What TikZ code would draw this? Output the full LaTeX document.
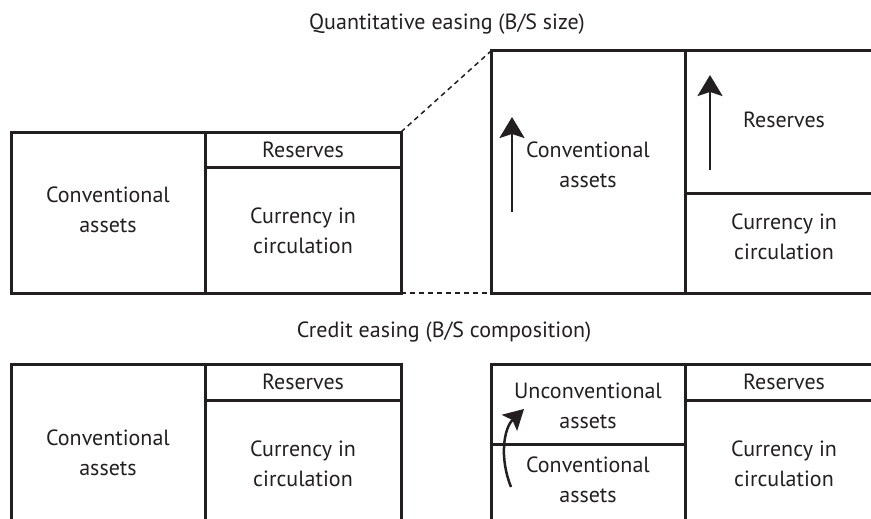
\documentclass[tikz,border=0pt]{standalone}
\usepackage{fontspec}
\setmainfont{PT Sans}
\usetikzlibrary{arrows.meta}
\definecolor{ink}{HTML}{231F20}
\begin{document}
\begin{tikzpicture}[x=1pt,y=-1pt,
  box/.style={line width=3pt,draw=ink},
  dashline/.style={line width=1.5pt,draw=ink,dash pattern=on 5pt off 4pt},
  lbl/.style={align=center,font=\fontsize{22}{30}\selectfont,inner sep=0pt,text=ink},
  uparrow/.style={line width=2.5pt,draw=ink,-{Stealth[length=21pt,width=25pt,inset=4pt]}},
  curvarrow/.style={line width=2.5pt,draw=ink,-{Stealth[length=20pt,width=22pt,inset=4pt]}}]
\useasboundingbox (0,0) rectangle (871,519);
\clip (0,0) rectangle (871,519);
% top left balance sheet
\draw[box] (11,132) rectangle (401,293);
\draw[box] (205,132) -- (205,293);
\draw[box] (205,167) -- (401,167);
% top right balance sheet
\draw[box] (491,51) rectangle (885,293);
\draw[box] (685,51) -- (685,293);
\draw[box] (685,193) -- (885,193);
% dashed links
\coordinate (tlTR) at (401,132);
\coordinate (tlBR) at (401,293);
\coordinate (trTL) at (491,51);
\coordinate (trBL) at (491,293);
\draw[dashline] (tlTR) -- (trTL);
\draw[dashline] (tlBR) -- (trBL);
% arrows
\coordinate (a1s) at (512,212);
\coordinate (a1e) at (512,117);
\draw[uparrow] (a1s) -- (a1e);
\coordinate (a2s) at (710,170);
\coordinate (a2e) at (710,75);
\draw[uparrow] (a2s) -- (a2e);
% texts top
\node[lbl] (t1) at (447,24) {Quantitative easing (B/S size)};
\node[lbl] (tl1) at (108,210) {Conventional\\assets};
\node[lbl] (tl2) at (303,150) {Reserves};
\node[lbl] (tl3) at (303,231) {Currency in\\circulation};
\node[lbl] (tr1) at (588,165) {Conventional\\assets};
\node[lbl] (tr2) at (784,120) {Reserves};
\node[lbl] (tr3) at (784,237) {Currency in\\circulation};
% bottom
\node[lbl] (t2) at (444,332) {Credit easing (B/S composition)};
\draw[box] (11,364) rectangle (401,545);
\draw[box] (205,364) -- (205,545);
\draw[box] (205,400) -- (401,400);
\draw[box] (491,364) rectangle (885,545);
\draw[box] (685,364) -- (685,545);
\draw[box] (685,400) -- (885,400);
\draw[box] (491,444) -- (685,444);
\node[lbl] (bl1) at (108,453) {Conventional\\assets};
\node[lbl] (bl2) at (303,382) {Reserves};
\node[lbl] (bl3) at (303,464) {Currency in\\circulation};
\node[lbl] (br1) at (588,406) {Unconventional\\assets};
\node[lbl] (br2) at (588,480) {Conventional\\assets};
\node[lbl] (br3) at (784,382) {Reserves};
\node[lbl] (br4) at (784,464) {Currency in\\circulation};
\coordinate (c1s) at (511,487);
\coordinate (c1e) at (524,409);
\draw[curvarrow] (c1s) .. controls (499,457) and (504,428) .. (c1e);
\end{tikzpicture}
\end{document}
